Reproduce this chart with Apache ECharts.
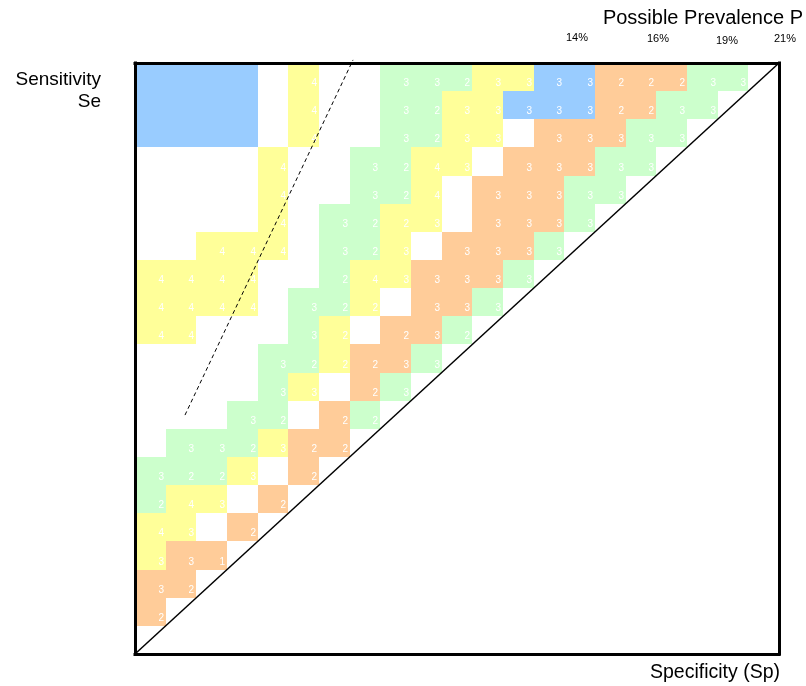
<!DOCTYPE html>
<html><head><meta charset="utf-8">
<script src="https://cdn.jsdelivr.net/npm/echarts@6/dist/echarts.min.js"></script>
<style>html,body{margin:0;padding:0;background:#fff}#c{width:806px;height:686px}</style>
</head><body><div id="c"></div>
<script>
// Grid of cells, row 0 = top (highest sensitivity), column 0 = left. '.' = empty
// B = blue, Y = yellow, G = green, O = orange
const colorRows = [
  "BBBB.Y..GGGYYBBOOOGG.",
  "BBBB.Y..GGYYBBBOOGG..",
  "BBBB.Y..GGYY.OOOGG...",
  "....Y..GGYY.OOOGG....",
  "....Y..GGY.OOOGG.....",
  "....Y.GGYY.OOOG......",
  "..YYY.GGY.OOOG.......",
  "YYYY..GYYOOOG........",
  "YYYY.GGY.OOG.........",
  "YY...GY.OOG..........",
  "....GGYOOG...........",
  "....GY.OG............",
  "...GG.OG.............",
  ".GGGYOO..............",
  "GGGY.O...............",
  "GYY.O................",
  "YY.O.................",
  "YOO..................",
  "OO...................",
  "O....................",
  "....................."
];
// Number printed in each cell (blank = none)
const labelRows = [
  "     4  332333322233 ",
  "     4  32333332233  ",
  "     4  3233 33333   ",
  "    4  3243 33333    ",
  "    4  324 33333     ",
  "    4 3223 3333      ",
  "  444 323 3333       ",
  "4444  2433333        ",
  "4444 322 333         ",
  "44   32 232          ",
  "    322233           ",
  "    33 23            ",
  "   32 22             ",
  " 332322              ",
  "3223 2               ",
  "243 2                ",
  "43 2                 ",
  "331                  ",
  "32                   ",
  "2                    ",
  "                     "
];
const colorKeys = ['B', 'Y', 'G', 'O'];
const prevalenceTicks = ['14%', '16%', '19%', '21%'];
const diagonalLine = [[0, 0], [21, 21]];
const dashedLine = [[1.63, 8.49], [7.11, 21.11]];

// ---- styling / layout ----
const fills = ['#99CCFF', '#FFFF99', '#CCFFCC', '#FFCC99'];
const N = 21;
const FONT = '"Liberation Sans", Arial, Helvetica, sans-serif';
const tickPos = [[577, 38], [658, 39], [727, 41], [785, 39]];

const cells = [];
colorRows.forEach((row, r) => {
  const lrow = (labelRows[r] || '').padEnd(N, ' ');
  for (let c = 0; c < N; c++) {
    const ch = row[c];
    const k = colorKeys.indexOf(ch);
    if (k >= 0) {
      const lab = lrow[c].trim();
      cells.push([c, N - 1 - r, k, lab ? Number(lab) : 0]);
    }
  }
});

const axisLineStyle = {show: true, onZero: false, lineStyle: {color: '#000', width: 3, cap: 'square'}};
function mkAxis(pos) {
  return {type: 'value', min: 0, max: N, position: pos, axisLine: axisLineStyle,
    axisTick: {show: false}, axisLabel: {show: false}, splitLine: {show: false}, z: 10};
}

const graphics = [
  {type: 'text', x: 803, y: 18, z: 20, style: {text: 'Possible Prevalence P', font: '20px ' + FONT, fill: '#000', align: 'right', verticalAlign: 'middle'}},
  {type: 'text', x: 101, y: 80, z: 20, style: {text: 'Sensitivity', font: '19px ' + FONT, fill: '#000', align: 'right', verticalAlign: 'middle'}},
  {type: 'text', x: 101, y: 102, z: 20, style: {text: 'Se', font: '19px ' + FONT, fill: '#000', align: 'right', verticalAlign: 'middle'}},
  {type: 'text', x: 650, y: 673, z: 20, style: {text: 'Specificity (Sp)', font: '19.5px ' + FONT, fill: '#000', align: 'left', verticalAlign: 'middle'}}
];
prevalenceTicks.forEach((t, i) => {
  graphics.push({type: 'text', x: tickPos[i][0], y: tickPos[i][1], z: 20,
    style: {text: t, font: '11px ' + FONT, fill: '#000', align: 'center', verticalAlign: 'middle'}});
});

const chart = echarts.init(document.getElementById('c'), null, {renderer: 'canvas'});
chart.setOption({
  animation: false,
  backgroundColor: '#fff',
  grid: {left: 135, top: 63, width: 644, height: 591, show: false, containLabel: false, outerBoundsMode: 'none'},
  xAxis: [mkAxis('bottom'), mkAxis('top')],
  yAxis: [mkAxis('left'), mkAxis('right')],
  graphic: graphics,
  series: [
    {
      type: 'custom',
      data: cells,
      dimensions: ['col', 'row', 'color', 'label'],
      encode: {x: 0, y: 1},
      z: 1,
      silent: true,
      renderItem: function (params, api) {
        const x = api.value(0), y = api.value(1);
        const p0 = api.coord([x, y + 1]);
        const p1 = api.coord([x + 1, y]);
        const x0 = Math.round(p0[0]), y0 = Math.round(p0[1]);
        const x1 = Math.round(p1[0]), y1 = Math.round(p1[1]);
        const w = x1 - x0, h = y1 - y0;
        const children = [{type: 'rect', shape: {x: x0, y: y0, width: w, height: h},
          style: {fill: fills[api.value(2)], stroke: null}}];
        const lab = api.value(3);
        if (lab > 0) {
          children.push({type: 'text', style: {text: String(lab), x: x1 - 2, y: y0 + h * 0.73,
            align: 'right', verticalAlign: 'middle', fill: '#fff', font: '10px ' + FONT}});
        }
        return {type: 'group', children: children};
      }
    },
    {type: 'line', data: diagonalLine, symbol: 'none', silent: true, z: 5,
      lineStyle: {color: '#000', width: 1.5}},
    {type: 'line', data: dashedLine, symbol: 'none', silent: true, z: 5, clip: false,
      lineStyle: {color: '#000', width: 1, type: [4, 3]}}
  ]
});
</script>
</body></html>
